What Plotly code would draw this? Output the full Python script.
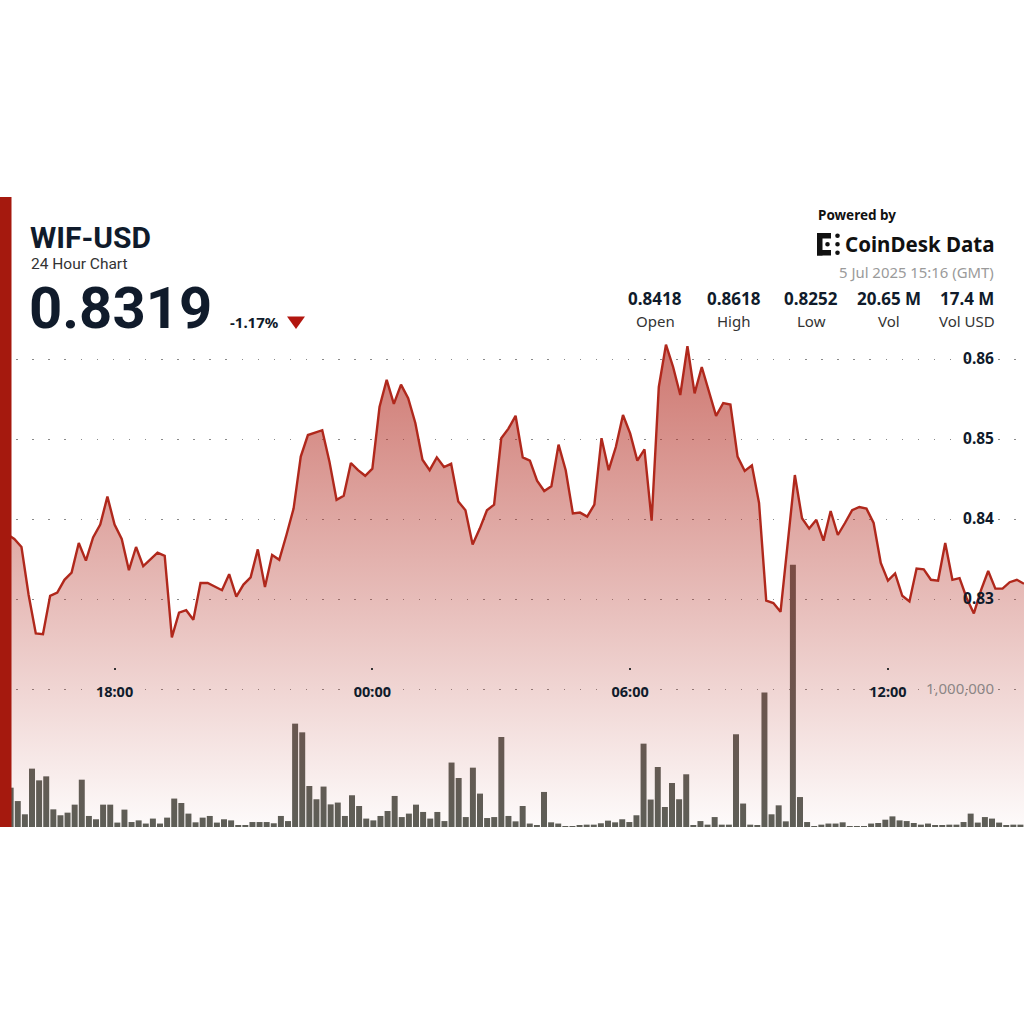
import pandas as pd
import plotly.graph_objects as go

# ---------------- data ----------------
symbol = "WIF-USD"
subtitle = "24 Hour Chart"
last_price = "0.8319"
change_pct = "-1.17%"
timestamp = "5 Jul 2025 15:16 (GMT)"
stat_values = ["0.8418", "0.8618", "0.8252", "20.65 M", "17.4 M"]
stat_labels = ["Open", "High", "Low", "Vol", "Vol USD"]

times = pd.date_range("2025-07-04 15:20", periods=144, freq="10min")

price = [
    0.8380, 0.8381, 0.8375, 0.8365, 0.8305, 0.8257, 0.8256, 0.8304, 0.8308, 0.8324,
    0.8333, 0.8370, 0.8348, 0.8377, 0.8393, 0.8428, 0.8393, 0.8375, 0.8336, 0.8365,
    0.8341, 0.8350, 0.8358, 0.8354, 0.8252, 0.8283, 0.8286, 0.8274, 0.8320, 0.8320,
    0.8315, 0.8311, 0.8331, 0.8303, 0.8318, 0.8327, 0.8362, 0.8315, 0.8355, 0.8349,
    0.8380, 0.8413, 0.8478, 0.8505, 0.8508, 0.8511, 0.8472, 0.8424, 0.8429, 0.8470,
    0.8461, 0.8454, 0.8463, 0.8540, 0.8574, 0.8544, 0.8568, 0.8551, 0.8520, 0.8474,
    0.8461, 0.8477, 0.8465, 0.8469, 0.8422, 0.8411, 0.8368, 0.8388, 0.8411, 0.8418,
    0.8501, 0.8513, 0.8529, 0.8477, 0.8473, 0.8448, 0.8435, 0.8441, 0.8493, 0.8461,
    0.8407, 0.8408, 0.8403, 0.8418, 0.8501, 0.8461, 0.8490, 0.8530, 0.8507, 0.8473,
    0.8487, 0.8398, 0.8565, 0.8618, 0.8590, 0.8555, 0.8616, 0.8557, 0.8590, 0.8561,
    0.8529, 0.8545, 0.8543, 0.8478, 0.8460, 0.8467, 0.8420, 0.8298, 0.8295, 0.8284,
    0.8372, 0.8455, 0.8401, 0.8388, 0.8399, 0.8373, 0.8410, 0.8380, 0.8395, 0.8411,
    0.8415, 0.8413, 0.8395, 0.8345, 0.8323, 0.8332, 0.8304, 0.8297, 0.8338, 0.8337,
    0.8324, 0.8323, 0.8370, 0.8324, 0.8326, 0.8301, 0.8282, 0.8311, 0.8335, 0.8313,
    0.8313, 0.8321, 0.8324, 0.8319,
]

volume_m = [
    0.250, 0.285, 0.188, 0.092, 0.423, 0.338, 0.367, 0.128, 0.085, 0.104,
    0.162, 0.343, 0.080, 0.056, 0.162, 0.162, 0.032, 0.126, 0.036, 0.048,
    0.025, 0.061, 0.025, 0.068, 0.206, 0.174, 0.097, 0.034, 0.068, 0.080,
    0.032, 0.056, 0.048, 0.008, 0.008, 0.036, 0.036, 0.036, 0.027, 0.080,
    0.043, 0.749, 0.686, 0.297, 0.201, 0.293, 0.164, 0.177, 0.080, 0.230,
    0.152, 0.061, 0.048, 0.080, 0.116, 0.225, 0.072, 0.097, 0.162, 0.109,
    0.061, 0.109, 0.043, 0.467, 0.355, 0.072, 0.430, 0.242, 0.065, 0.072,
    0.652, 0.080, 0.041, 0.152, 0.025, 0.012, 0.254, 0.034, 0.025, 0.005,
    0.005, 0.010, 0.017, 0.017, 0.027, 0.046, 0.034, 0.056, 0.036, 0.085,
    0.604, 0.199, 0.435, 0.145, 0.319, 0.201, 0.382, 0.008, 0.043, 0.017,
    0.072, 0.017, 0.017, 0.672, 0.170, 0.017, 0.012, 0.974, 0.092, 0.157,
    0.041, 1.900, 0.217, 0.036, 0.002, 0.017, 0.025, 0.025, 0.034, 0.005,
    0.002, 0.005, 0.025, 0.029, 0.053, 0.077, 0.048, 0.043, 0.029, 0.017,
    0.025, 0.012, 0.008, 0.017, 0.017, 0.036, 0.097, 0.032, 0.072, 0.061,
    0.032, 0.008, 0.017, 0.017,
]
volume = [v * 1_000_000 for v in volume_m]

price_ticks = [0.83, 0.84, 0.85, 0.86]
volume_ticks = [1_000_000]
volume_tick_text = ["1,000,000"]

# ---------------- styling helpers ----------------
W, H = 1024, 1024
TOP, BOTTOM = 197, 827
FONT = "Noto Sans"
HEAD_FONT = "Roboto"
DARK = "#101b2b"
RED = "#b0281c"


def px(x):
    return x / W


def py(y):
    return (BOTTOM - y) / (BOTTOM - TOP)


fig = go.Figure()

fig.add_trace(go.Bar(
    x=list(times.strftime("%Y-%m-%d %H:%M")),
    y=volume,
    xaxis="x", yaxis="y",
    marker=dict(color="#5c5f58", line=dict(width=0)),
    hoverinfo="skip",
    showlegend=False,
))

fig.add_trace(go.Scatter(
    x=times, y=price,
    xaxis="x2", yaxis="y2",
    mode="lines",
    line=dict(color=RED, width=2.4),
    fill="tozeroy",
    fillgradient=dict(
        type="vertical",
        colorscale=[[0, "rgba(178,42,31,0.02)"], [1, "rgba(178,42,31,0.64)"]],
        start=0.8015, stop=0.862,
    ),
    hoverinfo="skip",
    showlegend=False,
))

grid_dash = "1.5px,14.6px"

fig.update_layout(
    width=W, height=H,
    margin=dict(l=0, r=0, t=TOP, b=H - BOTTOM, pad=0),
    paper_bgcolor="white",
    plot_bgcolor="rgba(0,0,0,0)",
    bargap=0.16,
    font=dict(family=FONT, color=DARK),
    xaxis=dict(
        type="category", range=[-0.5, 143.5], visible=False,
        fixedrange=True,
    ),
    yaxis=dict(
        range=[0, (BOTTOM - TOP) / 138.0 * 1_000_000],
        side="right",
        tickvals=volume_ticks, ticktext=volume_tick_text,
        ticklabelposition="inside",
        ticklabelstandoff=27,
        ticks="",
        tickfont=dict(family=FONT, size=15, color="#8c8686"),
        showgrid=True, gridcolor="#8a8a8a", gridwidth=1.3, griddash=grid_dash,
        zeroline=False, showline=False,
    ),
    xaxis2=dict(
        type="date", overlaying="x",
        anchor="free", position=py(667),
        range=[times[0], times[-1]],
        tick0="2025-07-04 00:00", dtick=6 * 3600 * 1000,
        tickformat="%H:%M",
        ticks="outside", ticklen=2, tickwidth=2, tickcolor="#333",
        ticklabelstandoff=10,
        tickfont=dict(family=FONT, size=14.5, color=DARK, weight="bold"),
        showgrid=False, zeroline=False, showline=False,
    ),
    yaxis2=dict(
        overlaying="y", side="right",
        range=[0.86 - (BOTTOM - 359) / 8000, 0.86 + (359 - TOP) / 8000],
        tickvals=price_ticks, tickformat=".2f",
        ticklabelposition="inside",
        ticklabelstandoff=27,
        ticks="",
        tickfont=dict(family=FONT, size=15.5, color=DARK, weight="bold"),
        showgrid=True, gridcolor="#8a8a8a", gridwidth=1.3, griddash=grid_dash,
        zeroline=False, showline=False,
    ),
)

ann = []


def add_text(text, x, y, size, color=DARK, bold=False, xanchor="left", family=FONT):
    ann.append(dict(
        text=text, x=px(x), y=py(y), xref="paper", yref="paper",
        xanchor=xanchor, yanchor="middle", showarrow=False,
        font=dict(family=family, size=size, color=color,
                  weight="bold" if bold else "normal"),
    ))


add_text(symbol, 28, 237.2, 30, bold=True, family=HEAD_FONT)
add_text(subtitle, 29, 264.3, 15.5, color="#333333", family=HEAD_FONT)
add_text(last_price, 27, 307.6, 58, bold=True, family=HEAD_FONT)
add_text(change_pct, 228, 322, 15, bold=True)
add_text("Powered by", 816, 215, 13.5, color="#111111", bold=True)
add_text("CoinDesk Data", 996, 244, 20.5, color="#111111", bold=True, xanchor="right")
add_text(timestamp, 996, 272, 14.9, color="#9a9a9a", xanchor="right")

col_centers = [655, 733.5, 811, 889, 966.5]
for val, lab, cx in zip(stat_values, stat_labels, col_centers):
    add_text(val, cx, 298, 17, bold=True, xanchor="center")
    add_text(lab, cx, 320.5, 15, color="#333333", xanchor="center")

fig.update_layout(annotations=ann)

shapes = [
    # left red bar
    dict(type="rect", xref="paper", yref="paper", x0=0, x1=px(11.5), y0=0, y1=1,
         fillcolor="#a5190e", line=dict(width=0), layer="above"),
    # down triangle
    dict(type="path", xref="paper", yref="paper",
         path=f"M {px(287)} {py(316.5)} L {px(305)} {py(316.5)} L {px(296)} {py(329)} Z",
         fillcolor="#b2160f", line=dict(width=0), layer="above"),
]
# logo icon
logo_rects = [
    (817, 233, 822.5, 255.5),
    (817, 233, 831, 238.5),
    (817, 250, 831, 255.5),
]
for x0, y0, x1, y1 in logo_rects:
    shapes.append(dict(type="rect", xref="paper", yref="paper",
                       x0=px(x0), x1=px(x1), y0=py(y1), y1=py(y0),
                       fillcolor="#111111", line=dict(width=0), layer="above"))
for cx, cy in [(837.5, 235.7), (837.5, 252.8), (827.5, 244.3), (837.5, 244.3)]:
    shapes.append(dict(type="circle", xref="paper", yref="paper",
                       x0=px(cx - 2.3), x1=px(cx + 2.3), y0=py(cy + 2.3), y1=py(cy - 2.3),
                       fillcolor="#111111", line=dict(width=0), layer="above"))
fig.update_layout(shapes=shapes)

fig.write_html("out.html", config={"displayModeBar": False})
